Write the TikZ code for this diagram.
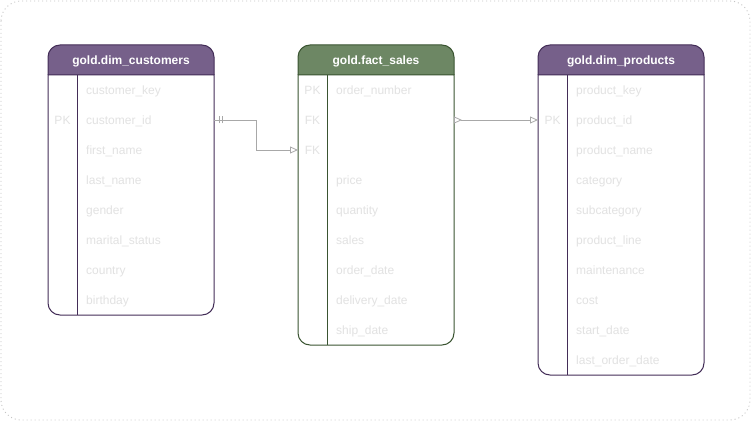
\documentclass[tikz,border=0pt]{standalone}
\usepackage{fontspec}
\setmainfont{Liberation Sans}
\usetikzlibrary{arrows.meta}
\definecolor{purpfill}{HTML}{76608A}
\definecolor{purpline}{HTML}{432D57}
\definecolor{greenfill}{HTML}{6D8764}
\definecolor{greenline}{HTML}{3A5431}
\definecolor{fieldtext}{HTML}{E2E2E2}
\definecolor{linkgray}{HTML}{A8A8A8}
\definecolor{framegray}{HTML}{C4C4C4}
\begin{document}
\begin{tikzpicture}[x=1pt,y=-1pt,
  hdr/.style={font=\bfseries\fontsize{12}{14}\selectfont, text=white, anchor=base, inner sep=0pt},
  fld/.style={font=\fontsize{12}{14}\selectfont, text=fieldtext, anchor=base west, inner sep=0pt},
  keylbl/.style={font=\fontsize{12}{14}\selectfont, text=fieldtext, anchor=base, inner sep=0pt},
  rowspan/.style={minimum height=30pt, inner sep=0pt, outer sep=0pt},
  tline/.style={line width=1pt},
  link/.style={draw=linkgray, line width=0.8pt}]
\useasboundingbox (0,0) rectangle (752,422);
% outer frame
\draw[framegray, line width=0.9pt, dash pattern=on 1pt off 3pt, rounded corners=20pt] (1,1) rectangle (750,420);

% ---------- gold.dim_customers ----------
\fill[white] (48,45) rectangle (214,315);
\fill[purpfill] (48,75) {[rounded corners=12pt] -- (48,45) -- (214,45)} -- (214,75) -- cycle;
\draw[purpline, tline] (48,75) {[rounded corners=12pt] -- (48,45) -- (214,45)} -- (214,75);
\draw[purpline, tline] (48,75) {[rounded corners=12pt] -- (48,315) -- (214,315)} -- (214,75) -- cycle;
\draw[purpline, tline] (77,75) -- (77,315);
\node[hdr] (custh) at (131,64.5) {gold.dim\_customers};
\foreach \t [count=\i] in {customer\_key,customer\_id,first\_name,last\_name,gender,marital\_status,country,birthday}{
  \node[rowspan, minimum width=166pt] (cust-\i) at (131,60+30*\i) {};
  \node[fld] (custf-\i) at (86,64.5+30*\i) {\t};
}
\node[keylbl] (custk-2) at (62.5,124.5) {PK};

% ---------- gold.fact_sales ----------
\fill[white] (298,45) rectangle (454,345);
\fill[greenfill] (298,75) {[rounded corners=12pt] -- (298,45) -- (454,45)} -- (454,75) -- cycle;
\draw[greenline, tline] (298,75) {[rounded corners=12pt] -- (298,45) -- (454,45)} -- (454,75);
\draw[greenline, tline] (298,75) {[rounded corners=12pt] -- (298,345) -- (454,345)} -- (454,75) -- cycle;
\draw[greenline, tline] (327,75) -- (327,345);
\node[hdr] (facth) at (376,64.5) {gold.fact\_sales};
\foreach \t [count=\i] in {order\_number,{},{},price,quantity,sales,order\_date,delivery\_date,ship\_date}{
  \node[rowspan, minimum width=156pt] (fact-\i) at (376,60+30*\i) {};
  \node[fld] (factf-\i) at (336,64.5+30*\i) {\t};
}
\node[keylbl] (factk-1) at (312.5,94.5) {PK};
\node[keylbl] (factk-2) at (312.5,124.5) {FK};
\node[keylbl] (factk-3) at (312.5,154.5) {FK};

% ---------- gold.dim_products ----------
\fill[white] (538,45) rectangle (704,375);
\fill[purpfill] (538,75) {[rounded corners=12pt] -- (538,45) -- (704,45)} -- (704,75) -- cycle;
\draw[purpline, tline] (538,75) {[rounded corners=12pt] -- (538,45) -- (704,45)} -- (704,75);
\draw[purpline, tline] (538,75) {[rounded corners=12pt] -- (538,375) -- (704,375)} -- (704,75) -- cycle;
\draw[purpline, tline] (567,75) -- (567,375);
\node[hdr] (prodh) at (621,64.5) {gold.dim\_products};
\foreach \t [count=\i] in {product\_key,product\_id,product\_name,category,subcategory,product\_line,maintenance,cost,start\_date,last\_order\_date}{
  \node[rowspan, minimum width=166pt] (prod-\i) at (621,60+30*\i) {};
  \node[fld] (prodf-\i) at (576,64.5+30*\i) {\t};
}
\node[keylbl] (prodk-2) at (552.5,124.5) {PK};

% ---------- connectors ----------
\draw[link, -{Triangle[open, length=8pt, width=7pt, line width=0.8pt]}]
  (cust-2.east) -- ++(42,0) |- (fact-3.west);
\draw[link] ([xshift=5pt,yshift=-3.5pt]cust-2.east) -- ([xshift=5pt,yshift=3.5pt]cust-2.east);
\draw[link] ([xshift=8pt,yshift=-3.5pt]cust-2.east) -- ([xshift=8pt,yshift=3.5pt]cust-2.east);
\draw[link, {Triangle[open, reversed, length=8pt, width=7pt, line width=0.8pt]}-{Triangle[open, length=8pt, width=7pt, line width=0.8pt]}]
  (fact-2.east) -- (prod-2.west);
\end{tikzpicture}
\end{document}
